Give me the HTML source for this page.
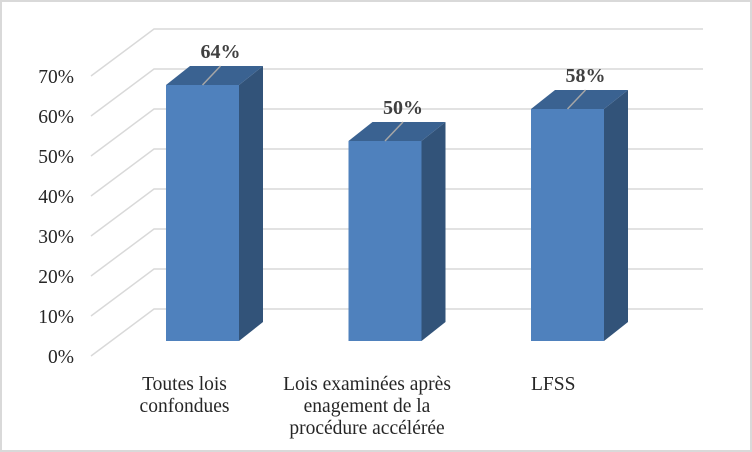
<!DOCTYPE html>
<html><head><meta charset="utf-8"><style>
body{margin:0;background:#fff}
svg{display:block}
text{font-family:"Liberation Serif",serif}
</style></head><body>
<svg id="c" width="752" height="452">
<rect x="1" y="1" width="750" height="450" fill="#fff" stroke="#d9d9d9" stroke-width="2"/>
<g id="grid"></g><g id="bars"></g><g id="labels"></g>
</svg>
<script>
const categories=[["Toutes lois","confondues"],["Lois examinées après","enagement de la","procédure accélérée"],["LFSS"]];
const values=[64,50,58];
const ticks=[0,10,20,30,40,50,60,70];
const ns="http://www.w3.org/2000/svg";
function mk(p,t,a){const e=document.createElementNS(ns,t);for(const k in a)e.setAttribute(k,a[k]);document.getElementById(p).appendChild(e);return e;}
const backY=v=>309-v*4, frontY=v=>341-v*4;
const barX=i=>166+i*182.5;
for(const t of ticks){
  const y=backY(t);
  let l=mk('grid','polyline',{points:`91,${y+47} 154,${y} 703,${y}`,fill:'none',stroke:'#d9d9d9','stroke-width':1.5});
  
  
  let tx=mk('grid','text',{x:74,y:y+54,'text-anchor':'end','font-size':19.5,fill:'#262626'});
  tx.textContent=t+'%';
  
  
}
values.forEach((v,i)=>{
  const x=barX(i),w=73,top=frontY(v),b=341,dx=24,dy=19;
  let g=mk('bars','g',{});
  
  
  const add=(pts,f)=>{const e=document.createElementNS(ns,'polygon');e.setAttribute('points',pts);e.setAttribute('fill',f);g.appendChild(e);};
  add(`${x+w},${top} ${x+w+dx},${top-dy} ${x+w+dx},${b-dy} ${x+w},${b}`,'#325379');
  add(`${x},${top} ${x+dx},${top-dy} ${x+w+dx},${top-dy} ${x+w},${top}`,'#3a6291');
  add(`${x},${top} ${x+w},${top} ${x+w},${b} ${x},${b}`,'#4f81bd');
  const cx=x+w/2;
  let ln=mk('labels','line',{x1:cx,y1:top,x2:cx+18,y2:top-19,stroke:'#a6a6a6','stroke-width':1.5});
  
  
  let vl=mk('labels','text',{x:cx+18,y:top-27,'text-anchor':'middle','font-size':20,'font-weight':'bold',fill:'#404040'});
  vl.textContent=v+'%';
  
  
  let cl=mk('labels','text',{x:cx-18,y:390,'text-anchor':i==2?'start':'middle','font-size':19.5,fill:'#262626'});
  
  
  categories[i].forEach((s,j)=>{const ts=document.createElementNS(ns,'tspan');ts.setAttribute('x',i==2?x:cx-18);ts.setAttribute('dy',j?22:0);ts.textContent=s;cl.appendChild(ts);});
});
</script>
</body></html>
